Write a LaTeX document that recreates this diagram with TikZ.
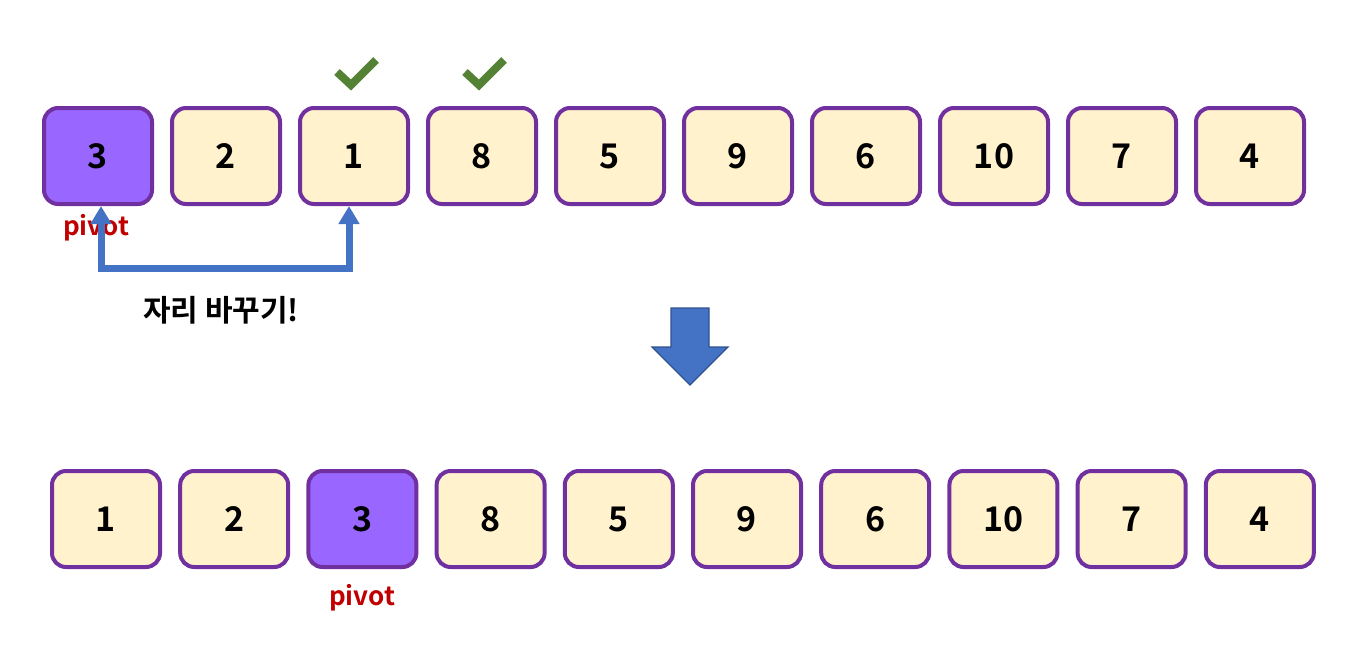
\documentclass[tikz,border=0pt]{standalone}
\usepackage{fontspec}
\setmainfont{Noto Sans CJK KR}[BoldFont={Noto Sans CJK KR Bold}]
\usetikzlibrary{arrows.meta,positioning}
\definecolor{cellfill}{HTML}{FFF2CC}
\definecolor{cellline}{HTML}{7030A0}
\definecolor{pivotfill}{HTML}{9966FF}
\definecolor{pivotred}{HTML}{C00000}
\definecolor{swapblue}{HTML}{4472C4}
\definecolor{darkblue}{HTML}{2F528F}
\definecolor{checkgreen}{HTML}{548235}
\tikzset{
  cell/.style={draw=cellline, line width=2pt, rounded corners=7pt, fill=cellfill,
    minimum width=54pt, minimum height=48pt, inner sep=0pt,
    font=\bfseries\fontsize{17}{19}\selectfont},
  pivotcell/.style={cell, fill=pivotfill},
  pivotlabel/.style={text=pivotred, inner sep=0pt, font=\bfseries\fontsize{13}{15}\selectfont},
  swaparrow/.style={draw=swapblue, line width=3.5pt,
    {Triangle[width=10pt,length=9pt]}-{Triangle[width=10pt,length=9pt]}},
  check/.style={draw=checkgreen, line width=4pt},
}
\begin{document}
\begin{tikzpicture}[x=0.5pt,y=-0.5pt]
        \useasboundingbox (0,0) rectangle (1368,669);

        % top row
        \foreach \v/\s [count=\i] in {3/pivotcell,2/cell,1/cell,8/cell,5/cell,9/cell,6/cell,10/cell,7/cell,4/cell}
            \node[\s] (t\i) at ({98+128*(\i-1)},156) {\v};
        \node[pivotlabel] (ptop) at (96,228) {pivot};

        % checks
        \foreach \c in {t3,t4}
            \draw[check] ([shift={(-17,-34)}]\c.north) -- ++(14,13) -- ++(25,-25);

        % swap
        \draw[swaparrow] ([xshift=1.5pt]t1.south) -- ++(0,62) -| ([xshift=-2.5pt]t3.south);
        \node (swaptxt) at (221,310) {\bfseries\fontsize{15}{17}\selectfont 자리 바꾸기!};

        % down arrow
        \draw[fill=swapblue, draw=darkblue, line width=0.6pt]
            (671,308) -- (709,308) -- (709,347) -- (728,347) -- (690,385)
            -- (652,347) -- (671,347) -- cycle;

        % bottom row
        \foreach \v/\s [count=\i] in {1/cell,2/cell,3/pivotcell,8/cell,5/cell,9/cell,6/cell,10/cell,7/cell,4/cell}
            \node[\s] (b\i) at ({106+128.2*(\i-1)},519) {\v};
        \node[pivotlabel] (pbot) at (362,598) {pivot};
\end{tikzpicture}
\end{document}
